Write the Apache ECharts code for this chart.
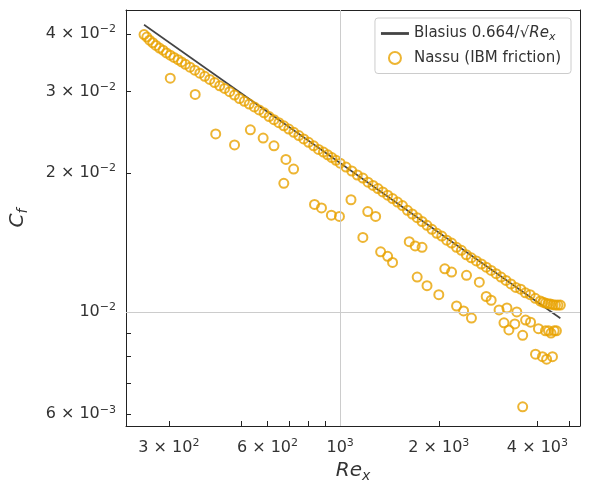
<!DOCTYPE html>
<html><head><meta charset="utf-8">
<script src="https://cdn.jsdelivr.net/npm/echarts@6/dist/echarts.min.js"></script>
<style>html,body{margin:0;padding:0;background:#fff}#c{width:589px;height:490px}</style>
</head><body><div id="c"></div>
<script>
const xLabelTicks = [300, 400, 600, 1000, 2000, 3000, 4000];
const xTicks = [300,400,500,600,700,800,900,1000,2000,3000,4000,5000];
const yLabelTicks = [0.006, 0.01, 0.02, 0.03, 0.04];
const yTicks = [0.006,0.007,0.008,0.009,0.01,0.02,0.03,0.04];
const blasiusRe = [252, 4699];
const blasiusCf = [0.0419, 0.00969];
const mainRe = [252,257,262,268,274,281,288,295,303,311,320,328,337,348,360,373,386,400,414,429,444,460,476,493,510,528,547,566,586,607,628,650,673,697,722,748,774,801,830,859,889,916,943,971,1000,1042,1085,1128,1173,1216,1260,1304,1349,1396,1445,1496,1549,1604,1660,1718,1778,1840,1905,1972,2042,2114,2188,2265,2344,2427,2512,2604,2698,2792,2890,2992,3097,3206,3320,3436,3556,3676,3800,3940,4083,4155,4230,4307,4385,4462,4540,4620,4699];
const mainCf = [0.0399,0.0394,0.0388,0.0383,0.0378,0.0373,0.0369,0.0364,0.0360,0.0356,0.0352,0.0348,0.0344,0.0339,0.0334,0.0329,0.0324,0.0319,0.0314,0.0309,0.0305,0.0300,0.0295,0.0290,0.0286,0.0282,0.0278,0.0274,0.0270,0.0265,0.0261,0.0257,0.0253,0.0249,0.0245,0.0241,0.0237,0.0233,0.0229,0.0225,0.0222,0.0219,0.0216,0.0213,0.0210,0.0206,0.0202,0.0198,0.0195,0.0191,0.0188,0.0185,0.0182,0.0179,0.0176,0.0173,0.0170,0.0166,0.0163,0.0160,0.0157,0.0154,0.0151,0.0148,0.0146,0.0143,0.0141,0.0138,0.0136,0.0133,0.0131,0.0129,0.0127,0.0125,0.0123,0.0121,0.0119,0.0117,0.0115,0.0113,0.0112,0.0110,0.0109,0.0107,0.01056,0.0105,0.01045,0.01042,0.0104,0.01037,0.01035,0.01035,0.01035];
const scatRe = [303,361,417,476,532,582,628,683,721,673,835,877,940,995,1079,1173,1214,1283,1329,1396,1445,1625,1694,1778,1718,1841,2000,2086,2188,2266,2381,2516,2430,2659,2791,2890,3055,3162,3273,3412,3606,3228,3460,3681,3811,4029,4232,3606,3946,4143,4266,4446,4325,4571,4400,4500];
const scatCf = [0.0321,0.0296,0.0243,0.0230,0.0248,0.0238,0.0229,0.0214,0.0204,0.0190,0.0171,0.0168,0.0162,0.0161,0.0175,0.0145,0.0165,0.0161,0.0135,0.0132,0.0128,0.0142,0.0139,0.0138,0.0119,0.0114,0.0109,0.0124,0.0122,0.0103,0.01005,0.0097,0.0120,0.0116,0.0108,0.0106,0.0101,0.00947,0.00914,0.00942,0.0089,0.0102,0.0100,0.0096,0.0095,0.0092,0.0091,0.00623,0.0081,0.0080,0.0079,0.0080,0.0091,0.0091,0.0090,0.0091];

const zip = (a,b)=>a.map((v,i)=>[v,b[i]]);
const col = '#E8A200';
function fmt(v){
  const e = Math.floor(Math.log10(v)+1e-9);
  const m = Math.round(v/Math.pow(10,e));
  const es = e<0 ? '\u2212'+(-e) : ''+e;
  return (m===1?'':m+' \u00d7 ')+'10{s|'+es+'}';
}
const rich = {s:{fontSize:11,verticalAlign:'bottom',padding:[0,0,9,0],color:'#333',fontFamily:'DejaVu Sans'}};
const nameRich = {i:{fontSize:20,fontStyle:'italic',fontFamily:'DejaVu Sans',color:'#333'},sub:{fontSize:14,fontStyle:'italic',verticalAlign:'top',padding:[10,0,0,0],fontFamily:'DejaVu Sans',color:'#333'}};
const frameX = {type:'log',logBase:10,min:222,max:5395,position:'top',axisLine:{show:true,onZero:false,lineStyle:{color:'#222'}},axisTick:{show:false},axisLabel:{show:false},splitLine:{show:false}};
const frameY = {type:'log',logBase:10,min:0.00566,max:0.0451,position:'right',axisLine:{show:true,onZero:false,lineStyle:{color:'#222'}},axisTick:{show:false},axisLabel:{show:false},splitLine:{show:false}};
const chart = echarts.init(document.getElementById('c'));
chart.setOption({
  animation:false,
  grid:{left:120,right:9,top:10,bottom:64},
  xAxis:[{type:'log',logBase:10,min:222,max:5395,
    name:'{i|Re}{sub|x}',nameLocation:'middle',nameGap:32,nameTextStyle:{rich:nameRich},
    axisLine:{show:true,onZero:false,lineStyle:{color:'#222',width:1}},
    axisTick:{show:true,inside:true,length:5,customValues:xTicks,lineStyle:{color:'#222'}},
    axisLabel:{customValues:xLabelTicks,formatter:fmt,fontSize:16,color:'#333',fontFamily:'DejaVu Sans',margin:12,rich:rich,hideOverlap:false,showMinLabel:true,showMaxLabel:true},
    splitLine:{show:false}}, frameX],
  yAxis:[{type:'log',logBase:10,min:0.00566,max:0.0451,
    name:'{i|C}{sub|f}',nameLocation:'middle',nameGap:96,nameRotate:90,nameTextStyle:{rich:nameRich},
    axisLine:{show:true,onZero:false,lineStyle:{color:'#222',width:1}},
    axisTick:{show:true,inside:true,length:5,customValues:yTicks,lineStyle:{color:'#222'}},
    axisLabel:{customValues:yLabelTicks,formatter:fmt,fontSize:16,color:'#333',fontFamily:'DejaVu Sans',margin:10,rich:rich,showMinLabel:true,showMaxLabel:true},
    splitLine:{show:false}}, frameY],
  legend:{right:18,top:18,orient:'vertical',itemGap:8,itemWidth:28,itemHeight:12,
    backgroundColor:'#fff',borderColor:'#ccc',borderWidth:1,borderRadius:3,padding:[8,10,8,6],
    textStyle:{fontSize:15,color:'#333',fontFamily:'DejaVu Sans',rich:{i:{fontSize:15,fontStyle:'italic',fontFamily:'DejaVu Sans',color:'#333'},sub:{fontSize:11,fontStyle:'italic',verticalAlign:'top',padding:[7,0,0,0],fontFamily:'DejaVu Sans',color:'#333'}}},
    formatter:n=>n==='blasius'?'Blasius 0.664/\u221a{i|Re}{sub|x}':'Nassu (IBM friction)',
    data:[{name:'blasius',icon:'path://M0,0H10V1H0Z'},{name:'nassu',icon:'circle',itemStyle:{color:'#fff',borderColor:col,borderWidth:2}}]},
  series:[
    {name:'blasius',type:'line',data:zip(blasiusRe,blasiusCf),showSymbol:false,lineStyle:{color:'#444',width:1.6},itemStyle:{color:'#444'},z:3,
     markLine:{silent:true,symbol:'none',label:{show:false},lineStyle:{color:'#ccc',width:1,type:'solid'},data:[{xAxis:1000},{yAxis:0.01}]}},
    {name:'nassu',type:'scatter',data:zip(mainRe,mainCf).concat(zip(scatRe,scatCf)),symbol:'circle',symbolSize:9,
     itemStyle:{color:'rgba(0,0,0,0)',borderColor:col,borderWidth:2},z:4}
  ]
});
</script></body></html>
